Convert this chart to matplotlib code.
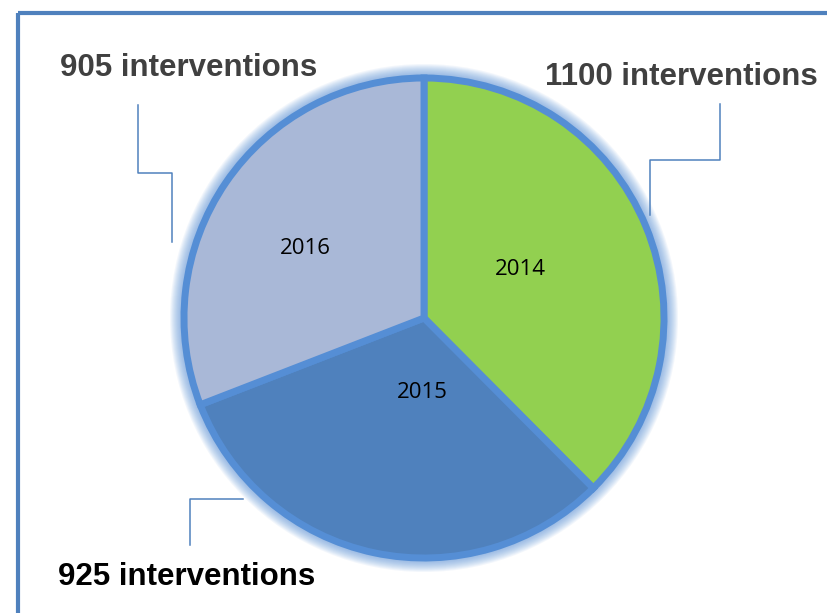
import matplotlib.pyplot as plt
from matplotlib.patches import Rectangle, Circle
import numpy as np

# data
years = ["2014", "2015", "2016"]
counts = [1100, 925, 905]
labels = ["1100 interventions", "925 interventions", "905 interventions"]
colors = ["#92D050", "#4F81BD", "#A9B8D7"]

# inner label placement: fraction of radius, angle nudge (deg)
label_dist = [0.45, 0.31, 0.575]
label_nudge = [-4, -10.5, -4]

fig = plt.figure(figsize=(8.28, 6.13), dpi=100)
ax = fig.add_axes([0, 0, 1, 1])

cx, cy, r = 424, 318, 240
glow = "#558ED5"

# soft glow around the pie
for i in range(16):
    ax.add_patch(Circle((cx, cy), r + 14 - i, facecolor=glow, edgecolor="none",
                        alpha=0.07, zorder=1))

# y axis is flipped (pixel coords), so counterclock here reads clockwise on screen
wedges, texts = ax.pie(counts, colors=colors, startangle=-90, counterclock=True,
                       center=(cx, cy), radius=r, labels=years,
                       wedgeprops=dict(edgecolor=glow, linewidth=5),
                       textprops=dict(fontsize=16, family="Open Sans", color="black"),
                       frame=True)
for w, t, d, n in zip(wedges, texts, label_dist, label_nudge):
    w.set_zorder(2)
    mid = np.deg2rad((w.theta1 + w.theta2) / 2 + n)
    t.set_position((cx + d * r * np.cos(mid), cy + d * r * np.sin(mid)))
    t.set_ha("center")
    t.set_va("center")
    t.set_zorder(3)

ax.set_xlim(0, 828)
ax.set_ylim(613, 0)
ax.set_aspect("equal")
ax.axis("off")

# frame
ax.add_patch(Rectangle((18.5, 12.5), 840, 640, fill=False, edgecolor="#4F81BD",
                       linewidth=3, zorder=5))

line_kw = dict(color="#4F81BD", linewidth=1.1, zorder=4)
# 905 leader
ax.plot([138, 138, 172, 172], [105, 173, 173, 242], **line_kw)
# 1100 leader
ax.plot([720, 720, 650, 650], [104, 160, 160, 215], **line_kw)
# 925 leader
ax.plot([243, 190, 190], [499, 499, 545], **line_kw)

lab_kw = dict(fontsize=22.5, fontweight="bold", family="Liberation Sans", zorder=6)
ax.text(60, 68, labels[2], color="#404040", ha="left", va="center", **lab_kw)
ax.text(545, 77, labels[0], color="#404040", ha="left", va="center", **lab_kw)
ax.text(58, 577, labels[1], color="black", ha="left", va="center", **lab_kw)

fig.savefig("out.png", dpi=100)
